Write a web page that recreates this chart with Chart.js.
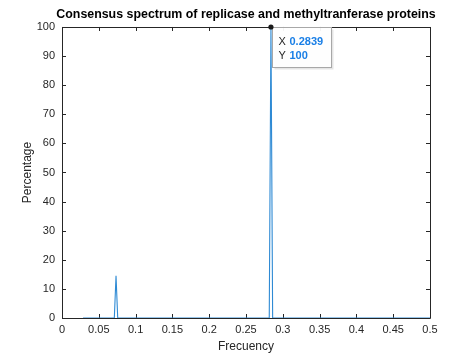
<!DOCTYPE html>
<html><head><meta charset="utf-8">
<script src="https://cdn.jsdelivr.net/npm/chart.js@4"></script>
<style>html,body{margin:0;padding:0;background:#fff}#wrap{width:476px;height:357px}</style>
</head><body><div id="wrap"><canvas id="c" width="476" height="357"></canvas></div>
<script>
const frequency  = [0.0286, 0.0711, 0.0734, 0.0757, 0.2816, 0.2839, 0.2862, 0.5];
const percentage = [0, 0, 14.5, 0, 0, 100, 0, 0];
const xTickValues = [0, 0.05, 0.1, 0.15, 0.2, 0.25, 0.3, 0.35, 0.4, 0.45, 0.5];
const yTickValues = [0, 10, 20, 30, 40, 50, 60, 70, 80, 90, 100];
const tipX = 0.2839, tipY = 100;
const tipLabels = ['X', 'Y'];
const tipValues = ['0.2839', '100'];

const AX = '#262626';
const FONT = "'Liberation Sans', Arial, Helvetica, sans-serif";

const framePlugin = {
  id: 'frame',
  beforeDatasetsDraw(chart) {
    const {ctx, chartArea: a, scales: {x, y}} = chart;
    ctx.save();
    ctx.strokeStyle = AX;
    ctx.lineWidth = 1;
    ctx.beginPath();
    ctx.rect(Math.round(a.left) + 0.5, Math.round(a.top) + 0.5, Math.round(a.right - a.left), Math.round(a.bottom - a.top));
    ctx.stroke();
    const tl = 4;
    ctx.beginPath();
    xTickValues.forEach(v => {
      const px = Math.round(x.getPixelForValue(v)) + 0.5;
      ctx.moveTo(px, a.bottom); ctx.lineTo(px, a.bottom - tl);
      ctx.moveTo(px, a.top); ctx.lineTo(px, a.top + tl);
    });
    yTickValues.forEach(v => {
      const py = Math.round(y.getPixelForValue(v)) + 0.5;
      ctx.moveTo(a.left, py); ctx.lineTo(a.left + tl, py);
      ctx.moveTo(a.right, py); ctx.lineTo(a.right - tl, py);
    });
    ctx.stroke();
    ctx.restore();
  },
  afterDraw(chart) {
    const {ctx, scales: {x, y}} = chart;
    const px = x.getPixelForValue(tipX), py = y.getPixelForValue(tipY);
    ctx.save();
    const bx = Math.round(px) + 1.5, by = Math.round(py) + 0.5, bw = 59, bh = 40;
    ctx.fillStyle = 'rgba(0,0,0,0.10)';
    ctx.fillRect(bx + 2, by + 2, bw, bh);
    ctx.fillStyle = 'rgba(255,255,255,0.95)';
    ctx.fillRect(bx, by, bw, bh);
    ctx.strokeStyle = '#a8a8a8';
    ctx.lineWidth = 1;
    ctx.strokeRect(bx, by, bw, bh);
    ctx.textBaseline = 'middle';
    ctx.textAlign = 'left';
    for (let i = 0; i < tipLabels.length; i++) {
      const ty = by + 14.5 + i * 13.5;
      ctx.font = '11px ' + FONT;
      ctx.fillStyle = AX;
      ctx.fillText(tipLabels[i], bx + 6, ty);
      ctx.font = 'bold 11px ' + FONT;
      ctx.fillStyle = '#1a7fe6';
      ctx.fillText(tipValues[i], bx + 17, ty);
    }
    ctx.fillStyle = '#1a1a1a';
    ctx.beginPath();
    ctx.arc(px, py, 2.6, 0, Math.PI * 2);
    ctx.fill();
    ctx.restore();
  }
};

new Chart(document.getElementById('c'), {
  type: 'line',
  data: {
    datasets: [{
      data: frequency.map((f, i) => ({x: f, y: percentage[i]})),
      borderColor: '#2e8ad4',
      borderWidth: 1.1,
      pointRadius: 0,
      tension: 0,
      fill: false
    }]
  },
  options: {
    responsive: false,
    devicePixelRatio: 1,
    animation: false,
    events: [],
    layout: {padding: {left: 16, right: 0, top: 0, bottom: 0}},
    plugins: {
      legend: {display: false},
      tooltip: {enabled: false},
      title: {
        display: true,
        text: 'Consensus spectrum of replicase and methyltranferase proteins',
        color: '#000',
        font: {family: FONT, size: 12.4, weight: 'bold', lineHeight: 1.2},
        padding: {top: 7, bottom: 5.1}
      }
    },
    scales: {
      x: {
        type: 'linear', min: 0, max: 0.5,
        afterBuildTicks: s => { s.ticks = xTickValues.map(v => ({value: v})); },
        afterFit: s => { s.height = 39; },
        grid: {display: false, drawTicks: false},
        border: {display: false},
        ticks: {
          color: AX, padding: 5, maxRotation: 0, autoSkip: false,
          font: {family: FONT, size: 11},
          callback: v => String(Number(v.toFixed(2)))
        },
        title: {display: true, text: 'Frecuency', color: AX, font: {family: FONT, size: 12}, padding: {top: 0, bottom: 3}}
      },
      y: {
        type: 'linear', min: 0, max: 100,
        afterBuildTicks: s => { s.ticks = yTickValues.map(v => ({value: v})); },
        afterFit: s => { s.width = 46; },
        grid: {display: false, drawTicks: false},
        border: {display: false},
        ticks: {color: AX, padding: 7, autoSkip: false, font: {family: FONT, size: 11}},
        title: {display: true, text: 'Percentage', color: AX, font: {family: FONT, size: 12}, padding: {top: 4, bottom: 0}}
      },
      yRight: {
        type: 'linear', position: 'right', min: 0, max: 100,
        afterFit: s => { s.width = 46; },
        grid: {display: false, drawTicks: false},
        border: {display: false},
        ticks: {display: false}
      }
    }
  },
  plugins: [framePlugin]
});
</script></body></html>
